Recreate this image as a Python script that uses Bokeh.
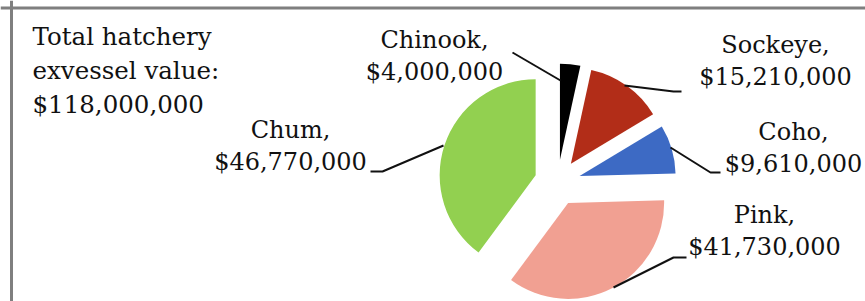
import math
from bokeh.plotting import figure
from bokeh.models import Range1d, Span, ColumnDataSource
from bokeh.core.properties import value
from bokeh.embed import file_html
from bokeh.resources import INLINE

# ---- data ----
species = ["Chinook", "Sockeye", "Coho", "Pink", "Chum"]
values = [4_000_000, 15_210_000, 9_610_000, 41_730_000, 46_770_000]
total_value = 118_000_000
colors = ["#000000", "#B22D18", "#3D6AC4", "#F1A092", "#92D050"]

# ---- layout (picture pixel coords) ----
W, H = 865, 301
def X(px): return px
def Y(py): return H - py

CENTER = (557, 182)
RADIUS = 96
EXPLODE = 23
FONT = value("DejaVu Serif")
TXT_SHIFT = 9  # compensate baseline placement

label_pos = {  # center x, baseline of line1, baseline of line2
    "Chinook": (434, 48, 80),
    "Sockeye": (775, 53, 85),
    "Coho": (793, 140, 172),
    "Pink": (764, 223, 255),
    "Chum": (290, 138, 170),
}
leaders = {
    "Chinook": [(512, 52), (560, 80)],
    "Sockeye": [(624, 85), (673, 91), (681, 91)],
    "Coho": [(670, 147), (710, 172), (720, 172)],
    "Pink": [(613, 287), (673, 257), (686, 257)],
    "Chum": [(443, 145), (382, 171), (370, 171)],
}

p = figure(width=W, height=H, x_range=Range1d(0, W), y_range=Range1d(0, H),
           output_backend="svg", toolbar_location=None,
           x_axis_type=None, y_axis_type=None, min_border=0)
p.grid.visible = False
p.outline_line_color = None
p.background_fill_color = "white"
p.border_fill_color = "white"

# frame (left and top edges visible)
p.add_layout(Span(location=X(11), dimension="height", line_color="#7f7f7f", line_width=3))
p.add_layout(Span(location=Y(7.5), dimension="width", line_color="#7f7f7f", line_width=3))

# ---- pie ----
tot = sum(values)
xs, ys, st, en = [], [], [], []
cum = 0.0
for v in values:
    t1 = cum / tot * 2 * math.pi
    cum += v
    t2 = cum / tot * 2 * math.pi
    mid = (t1 + t2) / 2
    xs.append(X(CENTER[0]) + EXPLODE * math.sin(mid))
    ys.append(Y(CENTER[1]) + EXPLODE * math.cos(mid))
    st.append(math.pi / 2 - t2)
    en.append(math.pi / 2 - t1)
src = ColumnDataSource(dict(x=xs, y=ys, start=st, end=en, color=colors))
p.wedge(x="x", y="y", radius=RADIUS, start_angle="start", end_angle="end",
        fill_color="color", line_color=None, source=src)

# ---- leader lines ----
lx = [[X(a) for a, b in leaders[s]] for s in species]
ly = [[Y(b) for a, b in leaders[s]] for s in species]
p.multi_line(lx, ly, line_color="#111111", line_width=2)

# ---- labels ----
tx, ty, tt = [], [], []
for s, v in zip(species, values):
    cx, b1, b2 = label_pos[s]
    tx += [X(cx), X(cx)]
    ty += [Y(b1 - TXT_SHIFT), Y(b2 - TXT_SHIFT)]
    tt += [f"{s},", f"${v:,}"]
p.text(x=tx, y=ty, text=tt, text_font=FONT, text_font_size="24px",
       text_align="center", text_baseline="alphabetic", text_color="#111111")

total_lines = ["Total hatchery", "exvessel value:", f"${total_value:,}"]
p.text(x=[X(32)] * 3, y=[Y(b - TXT_SHIFT) for b in (45, 79, 113)], text=total_lines,
       text_font=FONT, text_font_size="24.5px", text_align="left",
       text_baseline="alphabetic", text_color="#111111")

open("out.html", "w").write(file_html(p, INLINE))
